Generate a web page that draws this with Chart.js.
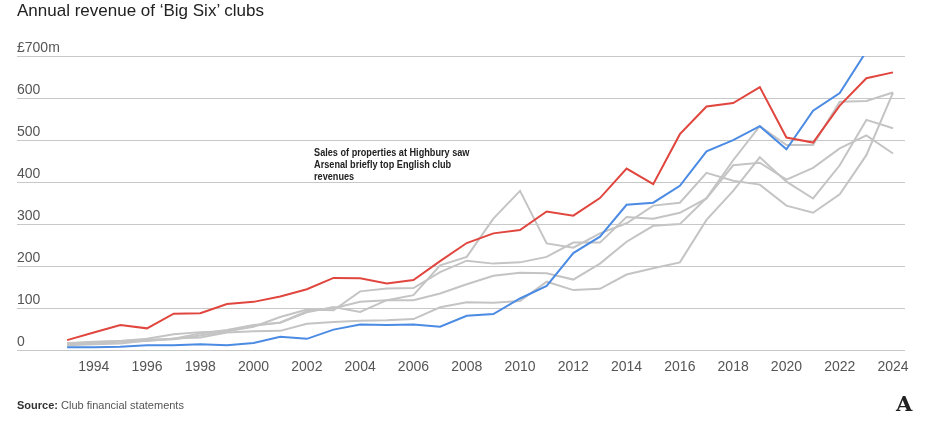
<!DOCTYPE html>
<html>
<head>
<meta charset="utf-8">
<script src="https://cdn.jsdelivr.net/npm/chart.js@4.4.1/dist/chart.umd.min.js"></script>
<style>
  html, body { margin: 0; padding: 0; background: #fff; }
  #wrap { position: relative; width: 933px; height: 428px; overflow: hidden; }
  #title { position: absolute; left: 17px; top: 1px; font: 17px "Liberation Sans", Arial, sans-serif; color: #222; white-space: nowrap; line-height: 20px; }
  #source { position: absolute; left: 17px; top: 398px; font: 11px "Liberation Sans", Arial, sans-serif; color: #555; white-space: nowrap; line-height: 14px; }
  #source b { color: #333; }
  #logo { position: absolute; left: 896px; top: 392px; font: bold 21px "DejaVu Serif", "Liberation Serif", serif; color: #222; line-height: 24px; }
  #chartBox { position: absolute; left: 0; top: 0; width: 933px; height: 428px; }
</style>
</head>
<body>
<div id="wrap">
  <div id="chartBox"><canvas id="c"></canvas></div>
  <div id="title">Annual revenue of ‘Big Six’ clubs</div>
  <div id="source"><b>Source:</b> Club financial statements</div>
  <div id="logo">A</div>
</div>
<script>
const years = [1993,1994,1995,1996,1997,1998,1999,2000,2001,2002,2003,2004,2005,2006,2007,2008,2009,2010,2011,2012,2013,2014,2015,2016,2017,2018,2019,2020,2021,2022,2023,2024];

const manUtd    = [24,42,60,52,87,88,110,115,128,145,172,171,159,167,212,255,278,286,330,320,362,432,395,514,580,588,626,506,494,582,647,661];
const manCity   = [7,7,8,12,12,14,12,17,32,27,49,61,60,61,56,82,86,123,153,231,270,346,351,391,473,500,533,478,570,612,711,714];
const arsenal   = [17,19,22,25,27,40,48,60,65,90,103,91,119,131,202,222,313,379,254,244,278,302,344,351,422,403,394,344,327,371,464,613];
const chelsea   = [12,14,16,23,26,35,45,56,79,97,95,140,147,148,186,213,206,209,222,256,256,317,313,327,361,440,446,406,434,480,511,468];
const liverpool = [16,20,22,27,38,43,45,58,66,93,100,115,119,119,135,157,177,184,183,168,206,258,296,300,362,452,533,488,488,591,593,613];
const tottenham = [15,17,20,22,28,30,42,45,46,63,67,70,71,74,102,114,113,117,163,143,146,180,195,209,310,379,459,401,361,440,548,528];

const xTickYears = [1994,1996,1998,2000,2002,2004,2006,2008,2010,2012,2014,2016,2018,2020,2022,2024];
const yTickValues = [0,100,200,300,400,500,600,700];

const annotationLines = ["Sales of properties at Highbury saw", "Arsenal briefly top English club", "revenues"];

const RED = '#e0463e', BLUE = '#4b8be3', GRAY = '#c4c4c4';
const tickFont = { family: '"Liberation Sans", Arial, sans-serif', size: 14 };

function series(label, values, color) {
  return {
    label,
    data: years.map((y, i) => ({ x: y, y: values[i] })),
    borderColor: color,
    backgroundColor: color,
    borderWidth: 2,
    pointRadius: 0,
    pointHoverRadius: 0,
    tension: 0,
    fill: false
  };
}

const annotationPlugin = {
  id: 'annot',
  afterDraw(chart) {
    const { ctx, scales } = chart;
    const x = scales.x.getPixelForValue(2002.27);
    const y0 = scales.y.getPixelForValue(470);
    ctx.save();
    ctx.translate(x, y0);
    ctx.scale(0.87, 1);
    ctx.font = 'bold 10.5px "Liberation Sans", Arial, sans-serif';
    ctx.fillStyle = '#222';
    ctx.textAlign = 'left';
    ctx.textBaseline = 'middle';
    annotationLines.forEach((t, i) => ctx.fillText(t, 0, i * 12));
    ctx.restore();
  }
};

new Chart(document.getElementById('c'), {
  type: 'line',
  data: {
    datasets: [
      series('Manchester United', manUtd, RED),
      series('Manchester City', manCity, BLUE),
      series('Arsenal', arsenal, GRAY),
      series('Chelsea', chelsea, GRAY),
      series('Liverpool', liverpool, GRAY),
      series('Tottenham', tottenham, GRAY)
    ]
  },
  options: {
    responsive: true,
    maintainAspectRatio: false,
    animation: false,
    events: [],
    layout: { padding: { left: 17, right: 28, top: 56, bottom: 51 } },
    plugins: { legend: { display: false }, tooltip: { enabled: false }, title: { display: false } },
    scales: {
      x: {
        type: 'linear',
        min: 1991.12,
        max: 2024.45,
        afterBuildTicks: (s) => { s.ticks = xTickYears.map(v => ({ value: v })); },
        afterFit: (s) => { s.paddingLeft = 0; s.paddingRight = 0; },
        grid: { display: false },
        border: { display: false },
        ticks: {
          autoSkip: false, maxRotation: 0, padding: 1,
          font: tickFont, color: '#555',
          callback: (v) => String(v)
        }
      },
      y: {
        min: 0,
        max: 700,
        afterBuildTicks: (s) => { s.ticks = yTickValues.map(v => ({ value: v })); },
        afterFit: (s) => { s.paddingTop = 0; s.paddingBottom = 0; },
        grid: { color: '#c8c8c8', lineWidth: 1, drawTicks: false },
        border: { display: false },
        ticks: {
          mirror: true, padding: 0, labelOffset: -8,
          font: tickFont, color: '#555',
          callback: (v) => v === 700 ? '£700m' : String(v)
        }
      }
    }
  },
  plugins: [annotationPlugin]
});
</script>
</body>
</html>
